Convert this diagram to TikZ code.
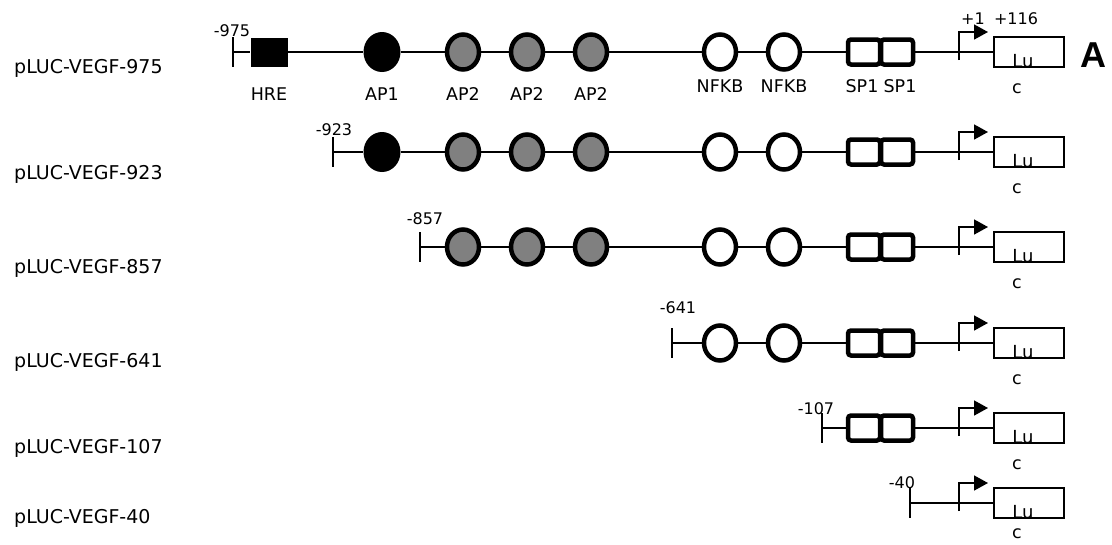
\documentclass[tikz,border=0pt]{standalone}
\usepackage{fontspec}
\setmainfont{DejaVu Sans}
\newfontfamily\arialfont{Liberation Sans}
\usetikzlibrary{shapes.geometric,arrows.meta}
\definecolor{apgray}{RGB}{128,128,128}
\newcommand\promluc[3]{%
  \coordinate (p#1) at (959,#2);
  \node[lucbox] (luc#1) at (1029,#2) {};
  \draw[prom] ([yshift=-8pt]p#1) |- ([xshift=29pt,yshift=20pt]p#1);
  \node[lulabel,anchor=base] (lu#1) at ([xshift=-6pt]luc#1.south) {Lu};
  \node[elabel] (c#1) at ([xshift=-12pt,yshift=-#3]luc#1.south) {c};
}
\newcommand\tickat[3]{%
  \coordinate (t#1) at (#2,#3);
  \draw[tickln] ([yshift=15pt]t#1) -- ([yshift=-15pt]t#1);
}
\begin{document}
\begin{tikzpicture}[x=1pt,y=-1pt,
  dna/.style={line width=1.6pt},
  tickln/.style={line width=1.6pt},
  hrebox/.style={rectangle,fill=black,minimum width=37pt,minimum height=29pt,inner sep=0pt},
  apone/.style={ellipse,fill=black,minimum width=37pt,minimum height=40pt,inner sep=0pt},
  aptwo/.style={ellipse,draw=black,fill=apgray,line width=4.5pt,minimum width=32pt,minimum height=35pt,inner sep=0pt},
  nfkb/.style={ellipse,draw=black,fill=white,line width=4.5pt,minimum width=32pt,minimum height=35pt,inner sep=0pt},
  spbox/.style={rectangle,rounded corners=3pt,draw=black,line width=4.5pt,minimum width=32pt,minimum height=25pt,inner sep=0pt},
  lucbox/.style={rectangle,draw=black,line width=1.6pt,minimum width=70pt,minimum height=30pt,inner sep=0pt},
  prom/.style={line width=1.6pt,-{Triangle[length=14pt,width=15pt]}},
  plabel/.style={anchor=base west,inner sep=0pt,font=\fontsize{19}{19}\selectfont},
  elabel/.style={inner sep=0pt,font=\fontsize{17.5}{17.5}\selectfont},
  lulabel/.style={inner sep=0pt,font=\fontsize{18}{18}\selectfont},
  numlabel/.style={inner sep=0pt,font=\fontsize{16}{16}\selectfont},
]
\useasboundingbox (0,0) rectangle (1112,544);

% ---------------- Row 1 ----------------
\node[plabel] (l1) at (14,73) {pLUC-VEGF-975};
\tickat{1}{233}{52}
\node[numlabel] (n1) at (232,31) {-975};
\node[hrebox] (hre1) at (269,52) {};
\node[apone] (apa1) at (382,52) {};
\node[aptwo] (apb1) at (463,52) {};
\node[aptwo] (apc1) at (527,52) {};
\node[aptwo] (apd1) at (591,52) {};
\node[nfkb] (nfa1) at (720,52) {};
\node[nfkb] (nfb1) at (784,52) {};
\node[spbox] (spa1) at (864,52) {};
\node[spbox] (spb1) at (897,52) {};
\promluc{1}{52}{21pt}
\draw[dna] (t1) -- (hre1) -- (apa1) -- (apb1) -- (apc1) -- (apd1) -- (nfa1) -- (nfb1) -- (spa1);
\draw[dna] (spb1) -- (p1) -- (luc1);
\node[elabel] (lhre) at (269,94) {HRE};
\node[elabel] (lap1) at (382,94) {AP1};
\node[elabel] (lapb) at (463,94) {AP2};
\node[elabel] (lapc) at (527,94) {AP2};
\node[elabel] (lapd) at (591,94) {AP2};
\node[elabel] (lnfa) at (720,86) {NFKB};
\node[elabel] (lnfb) at (784,86) {NFKB};
\node[elabel] (lspa) at (862,86) {SP1};
\node[elabel] (lspb) at (900,86) {SP1};
\node[numlabel] (plus1) at (973,19) {+1};
\node[numlabel] (plus116) at (1016,19) {+116};
\node[inner sep=0pt,font=\arialfont\bfseries\fontsize{36}{36}\selectfont] (bigA) at (1093,55) {A};

% ---------------- Row 2 ----------------
\node[plabel] (l2) at (14,179) {pLUC-VEGF-923};
\tickat{2}{333}{152}
\node[numlabel] (n2) at (334,130) {-923};
\node[apone] (apa2) at (382,152) {};
\node[aptwo] (apb2) at (463,152) {};
\node[aptwo] (apc2) at (527,152) {};
\node[aptwo] (apd2) at (591,152) {};
\node[nfkb] (nfa2) at (720,152) {};
\node[nfkb] (nfb2) at (784,152) {};
\node[spbox] (spa2) at (864,152) {};
\node[spbox] (spb2) at (897,152) {};
\promluc{2}{152}{21pt}
\draw[dna] (t2) -- (apa2) -- (apb2) -- (apc2) -- (apd2) -- (nfa2) -- (nfb2) -- (spa2);
\draw[dna] (spb2) -- (p2) -- (luc2);

% ---------------- Row 3 ----------------
\node[plabel] (l3) at (14,273) {pLUC-VEGF-857};
\tickat{3}{420}{247}
\node[numlabel] (n3) at (425,219) {-857};
\node[aptwo] (apb3) at (463,247) {};
\node[aptwo] (apc3) at (527,247) {};
\node[aptwo] (apd3) at (591,247) {};
\node[nfkb] (nfa3) at (720,247) {};
\node[nfkb] (nfb3) at (784,247) {};
\node[spbox] (spa3) at (864,247) {};
\node[spbox] (spb3) at (897,247) {};
\promluc{3}{247}{21pt}
\draw[dna] (t3) -- (apb3) -- (apc3) -- (apd3) -- (nfa3) -- (nfb3) -- (spa3);
\draw[dna] (spb3) -- (p3) -- (luc3);

% ---------------- Row 4 ----------------
\node[plabel] (l4) at (14,367) {pLUC-VEGF-641};
\tickat{4}{672}{343}
\node[numlabel] (n4) at (678,308) {-641};
\node[nfkb] (nfa4) at (720,343) {};
\node[nfkb] (nfb4) at (784,343) {};
\node[spbox] (spa4) at (864,343) {};
\node[spbox] (spb4) at (897,343) {};
\promluc{4}{343}{21pt}
\draw[dna] (t4) -- (nfa4) -- (nfb4) -- (spa4);
\draw[dna] (spb4) -- (p4) -- (luc4);

% ---------------- Row 5 ----------------
\node[plabel] (l5) at (14,453) {pLUC-VEGF-107};
\tickat{5}{822}{428}
\node[numlabel] (n5) at (816,409) {-107};
\node[spbox] (spa5) at (864,428) {};
\node[spbox] (spb5) at (897,428) {};
\promluc{5}{428}{21pt}
\draw[dna] (t5) -- (spa5);
\draw[dna] (spb5) -- (p5) -- (luc5);

% ---------------- Row 6 ----------------
\node[plabel] (l6) at (14,523) {pLUC-VEGF-40};
\tickat{6}{910}{503}
\node[numlabel] (n6) at (902,483) {-40};
\promluc{6}{503}{15pt}
\draw[dna] (t6) -- (p6) -- (luc6);
\end{tikzpicture}
\end{document}
